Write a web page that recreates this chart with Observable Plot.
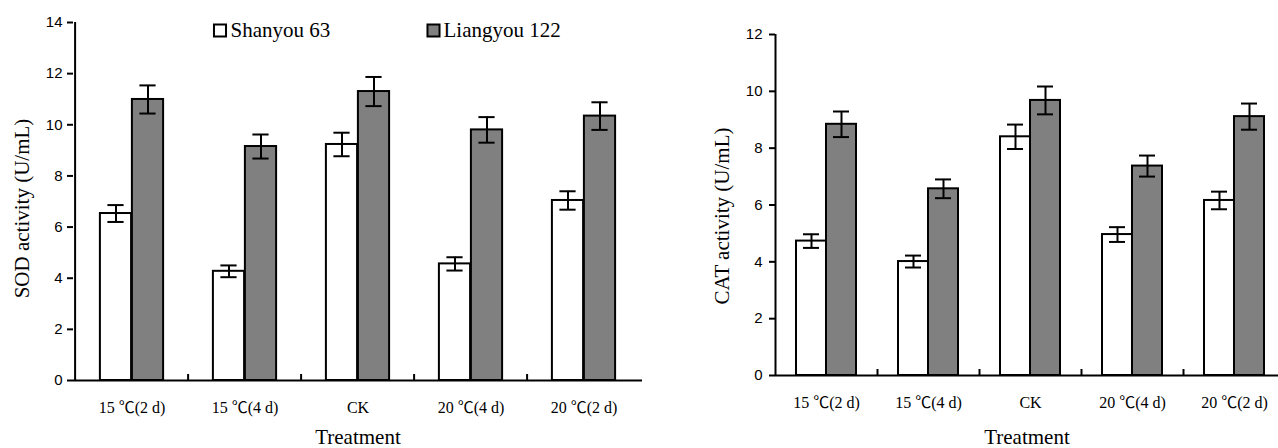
<!DOCTYPE html>
<html><head><meta charset="utf-8">
<script src="https://cdn.jsdelivr.net/npm/d3@7"></script>
<script src="https://cdn.jsdelivr.net/npm/@observablehq/plot@0.6"></script>
<style>
body{margin:0;background:#fff}
#wrap{position:relative;width:1278px;height:448px;overflow:hidden;background:#fff}
#left{position:absolute;left:0;top:0}
#right{position:absolute;left:650px;top:0}
</style></head><body>
<div id="wrap"><div id="left"></div><div id="right"></div></div>
<script>
const treatments = ["15 ℃(2 d)", "15 ℃(4 d)", "CK", "20 ℃(4 d)", "20 ℃(2 d)"];
const varieties = ["Shanyou 63", "Liangyou 122"];
const varietyFills = ["#ffffff", "#808080"];

const sodShanyou = [6.53, 4.27, 9.23, 4.56, 7.04];
const sodShanyouErr = [0.33, 0.23, 0.46, 0.26, 0.36];
const sodLiangyou = [10.99, 9.15, 11.30, 9.80, 10.34];
const sodLiangyouErr = [0.55, 0.47, 0.57, 0.50, 0.54];

const catShanyou = [4.73, 4.01, 8.40, 4.96, 6.16];
const catShanyouErr = [0.24, 0.21, 0.43, 0.26, 0.31];
const catLiangyou = [8.84, 6.57, 9.68, 7.37, 9.11];
const catLiangyouErr = [0.45, 0.33, 0.49, 0.37, 0.46];

const sodTicks = [0, 2, 4, 6, 8, 10, 12, 14];
const catTicks = [0, 2, 4, 6, 8, 10, 12];

const serif = "'Liberation Serif', 'Times New Roman', serif";
const catFont = "'Liberation Serif', 'Noto Sans CJK SC', serif";
const sans = "'Liberation Sans', Arial, sans-serif";

function panel(o) {
  const step = (o.xRange[1] - o.xRange[0]) / treatments.length;
  const innerH = o.height - o.marginTop - o.marginBottom;
  const rows = [];
  treatments.forEach((t, i) => {
    rows.push({treatment: t, variety: varieties[0], value: o.a[i], err: o.aErr[i], side: -1});
    rows.push({treatment: t, variety: varieties[1], value: o.b[i], err: o.bErr[i], side: 1});
  });
  const bw = o.barW, cap = o.capW;
  const capInset = (step - cap) / 2;
  const marks = [
    Plot.barY(rows.filter(d => d.side < 0), {x: "treatment", y: "value", fill: varietyFills[0], stroke: "#000", strokeWidth: 2, insetLeft: step / 2 - bw, insetRight: step / 2}),
    Plot.barY(rows.filter(d => d.side > 0), {x: "treatment", y: "value", fill: varietyFills[1], stroke: "#000", strokeWidth: 2, insetLeft: step / 2, insetRight: step / 2 - bw}),
    ...[-1, 1].map(s => Plot.ruleX(rows.filter(d => d.side === s), {x: "treatment", y1: d => d.value - d.err, y2: d => d.value + d.err, dx: s * bw / 2, stroke: "#000", strokeWidth: 2})),
    ...[-1, 1].map(s => Plot.tickY(rows.filter(d => d.side === s), {x: "treatment", y: d => d.value + d.err, dx: s * bw / 2, insetLeft: capInset, insetRight: capInset, stroke: "#000", strokeWidth: 2})),
    ...[-1, 1].map(s => Plot.tickY(rows.filter(d => d.side === s), {x: "treatment", y: d => d.value - d.err, dx: s * bw / 2, insetLeft: capInset, insetRight: capInset, stroke: "#000", strokeWidth: 2})),
    Plot.ruleY([0], {stroke: "#000", strokeWidth: 2}),
    Plot.ruleX([treatments[0]], {x: d => d, dx: -step / 2, stroke: "#000", strokeWidth: 2}),
    Plot.ruleX(treatments.slice(1), {x: d => d, dx: -step / 2, insetTop: innerH - 6, stroke: "#000", strokeWidth: 2}),
    Plot.axisY({ticks: o.ticks, tickSize: 6, tickPadding: o.tickPad, strokeWidth: 2, fontSize: 15, fontFamily: sans, label: null, fill: "#000"}),
    Plot.axisX({tickSize: 0, tickPadding: 21, fontSize: 16, fontFamily: catFont, label: null, fill: "#000"}),
    Plot.text([o.yTitle], {frameAnchor: "left", rotate: -90, dx: o.titleDx, dy: o.titleDy, fontSize: 21, fontFamily: serif, fill: "#000", textAnchor: "middle", lineAnchor: "middle"}),
    Plot.text(["Treatment"], {frameAnchor: "bottom", dy: o.treatDy, fontSize: 21, fontFamily: serif, fill: "#000", lineAnchor: "middle"})
  ];
  if (o.legend) {
    const pos = [[146.5, 157], [360, 370]];
    varieties.forEach((v, i) => {
      marks.push(Plot.dot([v], {frameAnchor: "top-left", dx: pos[i][0], dy: 8, symbol: "square", r: 6.8, fill: varietyFills[i], stroke: "#000", strokeWidth: 2}));
      marks.push(Plot.text([v], {frameAnchor: "top-left", dx: pos[i][1], dy: 8, textAnchor: "start", lineAnchor: "middle", fontSize: 21, fontFamily: serif, fill: "#000"}));
    });
  }
  return Plot.plot({
    width: o.width, height: o.height,
    marginLeft: o.marginLeft, marginRight: o.marginRight, marginTop: o.marginTop, marginBottom: o.marginBottom,
    x: {type: "band", domain: treatments, range: o.xRange, padding: 0, axis: null},
    y: {domain: o.yDomain, axis: null},
    style: {background: "#fff", color: "#000", maxWidth: "none", overflow: "hidden"},
    marks
  });
}

document.getElementById("left").append(panel({
  width: 650, height: 448, marginLeft: 73, marginRight: 8, marginTop: 22, marginBottom: 68,
  xRange: [73, 642], yDomain: [0, 14], ticks: sodTicks, tickPad: 5,
  a: sodShanyou, aErr: sodShanyouErr, b: sodLiangyou, bErr: sodLiangyouErr,
  barW: 32, capW: 17, yTitle: "SOD activity (U/mL)", titleDx: -51, titleDy: 7, treatDy: 57, legend: true
}));
document.getElementById("right").append(panel({
  width: 628, height: 448, marginLeft: 125, marginRight: 0, marginTop: 34, marginBottom: 73,
  xRange: [125, 635], yDomain: [0, 12], ticks: catTicks, tickPad: 7,
  a: catShanyou, aErr: catShanyouErr, b: catLiangyou, bErr: catLiangyouErr,
  barW: 30, capW: 16, yTitle: "CAT activity (U/mL)", titleDx: -53, titleDy: 11, treatDy: 62, legend: false
}));
</script>
</body></html>
